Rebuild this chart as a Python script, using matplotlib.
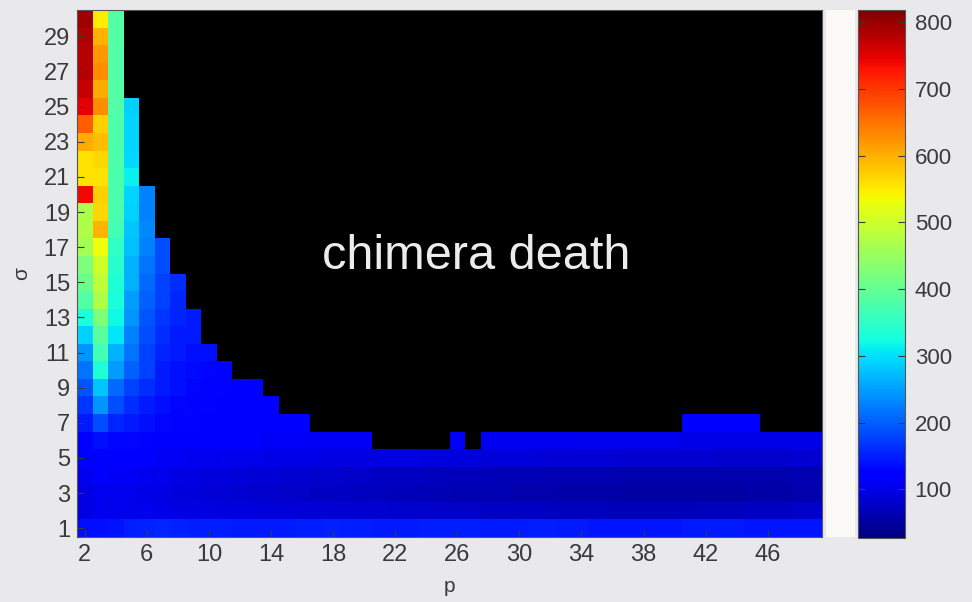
import numpy as np
import matplotlib
matplotlib.use("Agg")
import matplotlib.pyplot as plt

nan = np.nan
p_values = list(range(2, 50))          # 48 columns
sigma_values = list(range(1, 31))      # 30 rows

# value rows (sigma = 1 ... 30), listed from p = 2; NaN / missing = chimera death
row_s30 = [794, 549, 383]
row_s29 = [786, 597, 383]
row_s28 = [778, 620, 380]
row_s27 = [778, 628, 380]
row_s26 = [771, 604, 383]
row_s25 = [747, 628, 380, 288]
row_s24 = [668, 573, 378, 290]
row_s23 = [604, 589, 378, 290]
row_s22 = [557, 565, 378, 295]
row_s21 = [557, 557, 375, 312]
row_s20 = [739, 573, 375, 290, 225]
row_s19 = [470, 565, 375, 288, 225]
row_s18 = [470, 597, 367, 280, 233]
row_s17 = [462, 533, 351, 275, 225, 185]
row_s16 = [423, 502, 343, 264, 217, 185]
row_s15 = [407, 486, 335, 264, 209, 177, 161]
row_s14 = [383, 470, 328, 248, 201, 177, 154]
row_s13 = [330, 423, 320, 241, 193, 169, 154, 146]
row_s12 = [288, 391, 304, 225, 185, 161, 146, 146]
row_s11 = [241, 367, 264, 217, 177, 154, 146, 138, 138]
row_s10 = [217, 335, 248, 201, 177, 146, 138, 134, 130, 128]
row_s09 = [193, 280, 209, 177, 161, 146, 138, 130, 128, 126, 125, 124]
row_s08 = [169, 241, 185, 161, 146, 138, 130, 128, 126, 125, 124, 123, 122]
row_s07 = ([146, 185, 154, 146, 138, 130, 128, 126, 125, 124, 123, 122, 121, 120, 120]
           + [nan] * 24 + [116, 116, 116, 115, 115] + [nan] * 4)
row_s06 = ([122, 138, 130, 130, 128, 125, 122, 120, 118, 116, 115, 114, 113, 112, 111,
            110, 110, 109, 109] + [nan] * 5 + [108] + [nan]
           + [107, 107, 106, 106, 105, 105, 104, 104, 103, 103, 102, 102, 102, 101, 101,
              101, 100, 100, 100, 100, 100, 100])
row_s05 = [114, 122, 120, 118, 114, 110, 108, 106, 105, 104, 103, 102, 101, 100, 100, 99,
           98, 98, 97, 96, 95, 95, 94, 93, 92, 92, 91, 90, 90, 89, 88, 88, 87, 86, 86, 85,
           85, 84, 84, 83, 83, 82, 82, 82, 82, 82, 83, 84]
row_s04 = [106, 114, 112, 110, 106, 102, 98, 96, 94, 92, 90, 88, 86, 85, 84, 82, 80, 79,
           78, 76, 75, 74, 72, 71, 70, 69, 68, 67, 66, 65, 64, 63, 62, 62, 61, 60, 60, 59,
           59, 58, 58, 58, 58, 58, 59, 60, 61, 62]
row_s03 = [98, 106, 104, 104, 100, 96, 92, 90, 88, 86, 84, 82, 80, 79, 78, 76, 75, 74, 72,
           71, 70, 68, 67, 66, 64, 63, 62, 61, 60, 59, 58, 57, 56, 55, 55, 54, 54, 53, 53,
           53, 53, 54, 54, 55, 56, 57, 58, 60]
row_s02 = [98, 106, 104, 104, 102, 100, 98, 96, 95, 94, 93, 92, 90, 89, 88, 87, 86, 85, 84,
           83, 82, 81, 80, 79, 78, 77, 76, 75, 74, 74, 73, 72, 72, 71, 70, 70, 70, 70, 70,
           70, 71, 72, 73, 74, 75, 76, 78, 80]
row_s01 = [138, 138, 140, 150, 152, 154, 152, 150, 150, 148, 146, 145, 145, 146, 148, 150,
           152, 150, 148, 146, 145, 146, 148, 150, 150, 148, 146, 145, 146, 148, 148, 146,
           145, 144, 143, 142, 142, 143, 144, 145, 146, 146, 145, 144, 143, 142, 142, 142]

rows = [row_s01, row_s02, row_s03, row_s04, row_s05, row_s06, row_s07, row_s08, row_s09,
        row_s10, row_s11, row_s12, row_s13, row_s14, row_s15, row_s16, row_s17, row_s18,
        row_s19, row_s20, row_s21, row_s22, row_s23, row_s24, row_s25, row_s26, row_s27,
        row_s28, row_s29, row_s30]

Z = np.full((len(sigma_values), len(p_values)), np.nan)
for i, r in enumerate(rows):
    Z[i, :len(r)] = r
Zm = np.ma.masked_invalid(Z)

x_ticks = list(range(2, 47, 4))
y_ticks = list(range(1, 30, 2))
cbar_ticks = [100, 200, 300, 400, 500, 600, 700, 800]
vmin, vmax = 27, 818

W, H = 972, 602
fig = plt.figure(figsize=(W / 100, H / 100), dpi=100, facecolor="#e9e8ea")
tick_col = "#3a3a3a"
fam = ["Liberation Sans", "DejaVu Sans"]

ax = fig.add_axes([77 / W, 1 - 537 / H, (822 - 77) / W, (537 - 10) / H])
cmap = plt.get_cmap("jet").copy()
cmap.set_bad("black")
edges_x = np.arange(len(p_values) + 1) + p_values[0] - 0.5
edges_y = np.arange(len(sigma_values) + 1) + sigma_values[0] - 0.5
mesh = ax.pcolormesh(edges_x, edges_y, Zm, cmap=cmap, vmin=vmin, vmax=vmax)
ax.set_xlim(edges_x[0], edges_x[-1])
ax.set_ylim(edges_y[0], edges_y[-1])
ax.set_xticks(x_ticks)
ax.set_yticks(y_ticks)
ax.tick_params(direction="in", length=5, width=0.8, colors=tick_col, labelsize=17,
               pad=5)
for lab in ax.get_xticklabels() + ax.get_yticklabels():
    lab.set_family(fam)
    lab.set_color(tick_col)
for s in ax.spines.values():
    s.set_color("#555555")
    s.set_linewidth(0.8)
ax.set_xlabel("p", fontsize=15, color=tick_col, family=fam, labelpad=8)
ax.set_ylabel("σ", fontsize=15, color=tick_col, family=fam, labelpad=9)
ax.text(0.5356, 0.533, "chimera death", transform=ax.transAxes, ha="center",
        va="center", color="#ececec", fontsize=35, family=fam)

# white strip between map and colour bar
strip = fig.add_axes([826 / W, 1 - 537 / H, (855 - 826) / W, (537 - 10) / H])
strip.set_facecolor("#fbfaf7")
strip.set_xticks([])
strip.set_yticks([])
for s in strip.spines.values():
    s.set_visible(False)

cax = fig.add_axes([858 / W, 1 - 538 / H, (905 - 858) / W, (538 - 10) / H])
cb = fig.colorbar(mesh, cax=cax, ticks=cbar_ticks)
cb.outline.set_edgecolor("#555555")
cb.outline.set_linewidth(0.8)
cax.tick_params(direction="in", length=5, width=0.8, colors=tick_col, labelsize=16,
                left=True, right=True, pad=7)
for lab in cax.get_yticklabels():
    lab.set_family(fam)
    lab.set_color(tick_col)

fig.savefig("out.png", dpi=100, facecolor=fig.get_facecolor())
